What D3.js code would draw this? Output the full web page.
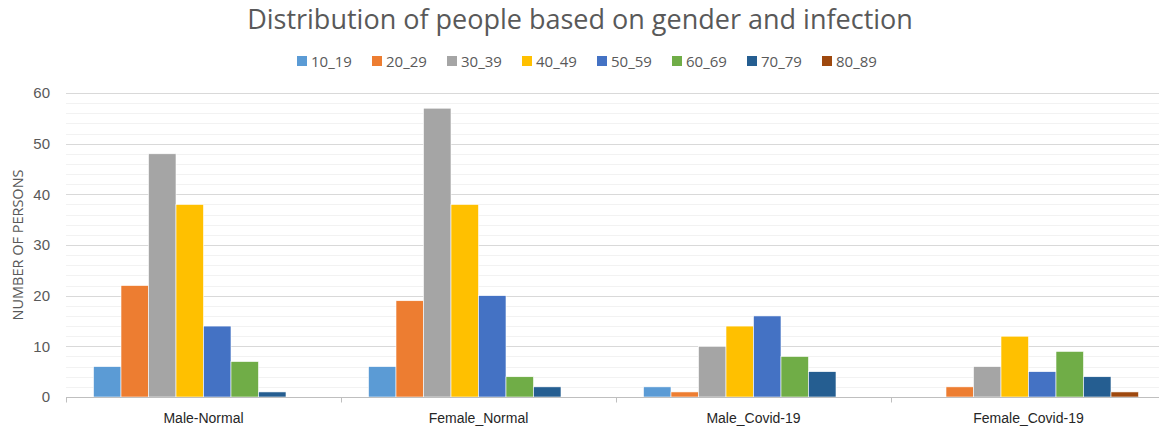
<!DOCTYPE html>
<html>
<head>
<meta charset="utf-8">
<script src="https://cdn.jsdelivr.net/npm/d3@7"></script>
<style>
  body { margin: 0; background: #fff; }
  svg { display: block; font-family: "Open Sans", "Noto Sans", sans-serif; }
</style>
</head>
<body>
<div id="chart"></div>
<script>
var categories = ["Male-Normal", "Female_Normal", "Male_Covid-19", "Female_Covid-19"],
    ageGroups = ["10_19", "20_29", "30_39", "40_49", "50_59", "60_69", "70_79", "80_89"],
    // one array per age group, values in category order
    v10_19 = [6, 6, 2, 0],
    v20_29 = [22, 19, 1, 2],
    v30_39 = [48, 57, 10, 6],
    v40_49 = [38, 38, 14, 12],
    v50_59 = [14, 20, 16, 5],
    v60_69 = [7, 4, 8, 9],
    v70_79 = [1, 2, 5, 4],
    v80_89 = [0, 0, 0, 1],
    yTicks = [0, 10, 20, 30, 40, 50, 60],
    colors = ["#5b9bd5", "#ed7d31", "#a5a5a5", "#ffc000", "#4472c4", "#70ad47", "#255e91", "#9e480e"];

var series = [v10_19, v20_29, v30_39, v40_49, v50_59, v60_69, v70_79, v80_89];

var W = 1159, H = 430,
    margin = { top: 93, right: -7, bottom: 33, left: 66 },
    width = W - margin.left - margin.right,
    height = H - margin.top - margin.bottom;

var data = [];
categories.forEach(function (c, ci) {
    ageGroups.forEach(function (g, gi) {
        data.push({ cat: c, group: g, value: series[gi][ci] });
    });
});

var svg = d3.select("#chart").append("svg")
    .attr("width", W)
    .attr("height", H);

var g = svg.append("g")
    .attr("transform", "translate(" + margin.left + "," + margin.top + ")");

var x0 = d3.scaleBand()
        .domain(categories)
        .range([0, width])
        .paddingInner(0)
        .paddingOuter(0),
    x1 = d3.scaleBand()
        .domain(ageGroups)
        .range([0, x0.bandwidth()])
        .paddingInner(0)
        .paddingOuter(1),
    y = d3.scaleLinear()
        .domain([0, 60])
        .range([height, 0]),
    color = d3.scaleOrdinal()
        .domain(ageGroups)
        .range(colors);

// minor gridlines
g.append("g")
    .selectAll("line")
    .data(d3.range(2, 61, 2).filter(function (d) { return d % 10 !== 0; }))
    .enter().append("line")
    .attr("x1", 0)
    .attr("x2", width)
    .attr("y1", function (d) { return Math.round(y(d)) + 0.5; })
    .attr("y2", function (d) { return Math.round(y(d)) + 0.5; })
    .attr("stroke", "#f2f2f2");

// major gridlines
g.append("g")
    .selectAll("line")
    .data(yTicks.slice(1))
    .enter().append("line")
    .attr("x1", 0)
    .attr("x2", width)
    .attr("y1", function (d) { return Math.round(y(d)) + 0.5; })
    .attr("y2", function (d) { return Math.round(y(d)) + 0.5; })
    .attr("stroke", "#d9d9d9");

// y axis labels
var yAxis = g.append("g")
    .call(d3.axisLeft(y).tickValues(yTicks).tickSize(0).tickPadding(16));
yAxis.select(".domain").remove();
yAxis.selectAll("text")
    .attr("fill", "#595959")
    .style("font-size", "15px");

// bars
g.append("g")
    .selectAll("rect")
    .data(data.filter(function (d) { return d.value > 0; }))
    .enter().append("rect")
    .attr("x", function (d) { return x0(d.cat) + x1(d.group); })
    .attr("y", function (d) { return y(d.value); })
    .attr("width", x1.bandwidth())
    .attr("height", function (d) { return y(0) - y(d.value); })
    .attr("fill", function (d) { return color(d.group); })
    .attr("stroke", "#ffffff")
    .attr("stroke-width", 0.6);

// x axis
var xAxis = g.append("g")
    .attr("transform", "translate(0," + (Math.round(height) + 0.5) + ")")
    .call(d3.axisBottom(x0).tickSize(0).tickPadding(16));
xAxis.select(".domain").attr("stroke", "#bfbfbf").attr("d", "M0,0H" + width);
xAxis.selectAll("text")
    .attr("fill", "#262626")
    .style("font-size", "14px");

// category boundary ticks
xAxis.append("g")
    .selectAll("line")
    .data(categories)
    .enter().append("line")
    .attr("x1", function (d) { return Math.round(x0(d)) + 0.5; })
    .attr("x2", function (d) { return Math.round(x0(d)) + 0.5; })
    .attr("y1", 0)
    .attr("y2", 5)
    .attr("stroke", "#bfbfbf");

// title
svg.append("text")
    .attr("x", 580)
    .attr("y", 29)
    .attr("text-anchor", "middle")
    .attr("fill", "#595959")
    .style("font-size", "27px")
    .style("font-weight", "400")
    .text("Distribution of people based on gender and infection");

// y axis title
svg.append("text")
    .attr("transform", "translate(23," + (margin.top + height / 2) + ") rotate(-90)")
    .attr("text-anchor", "middle")
    .attr("fill", "#595959")
    .style("font-size", "14.5px")
    .text("NUMBER OF PERSONS");

// legend
var legend = svg.append("g")
    .attr("transform", "translate(297,56)")
    .selectAll("g")
    .data(ageGroups)
    .enter().append("g")
    .attr("transform", function (d, i) { return "translate(" + (i * 75) + ",0)"; });

legend.append("rect")
    .attr("width", 10)
    .attr("height", 10)
    .attr("fill", function (d) { return color(d); });

legend.append("text")
    .attr("x", 14)
    .attr("y", 10.5)
    .attr("fill", "#595959")
    .style("font-size", "15px")
    .text(function (d) { return d; });
</script>
</body>
</html>
